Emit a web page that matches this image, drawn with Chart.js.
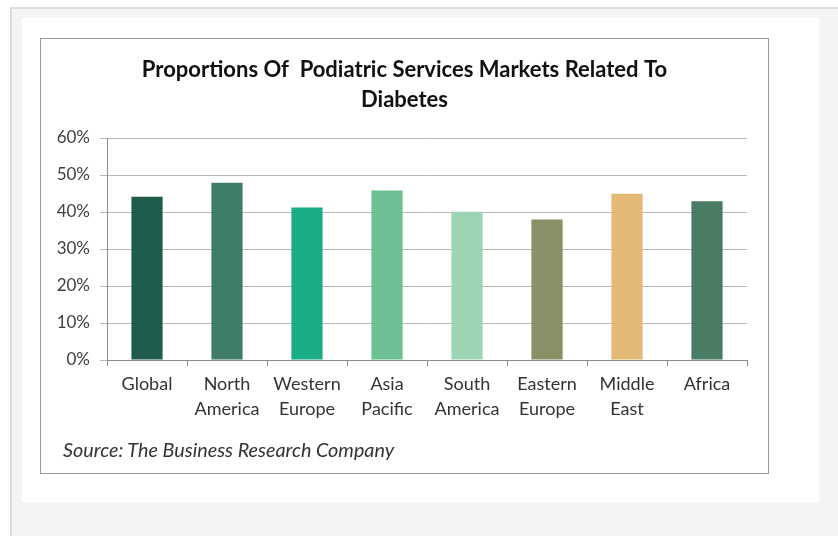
<!DOCTYPE html>
<html lang="en">
<head>
    <meta charset="UTF-8">
    <title>Proportions Of Podiatric Services Markets Related To Diabetes</title>
    <script src="https://cdn.jsdelivr.net/npm/chart.js"></script>
    <style>
        body { margin: 0; background: #fff; font-family: Lato, sans-serif; }
        .outer { position: absolute; left: 10px; top: 7px; width: 840px; height: 540px;
                 background: #f4f4f4; border-left: 2px solid #dcdcdc; border-top: 2px solid #dcdcdc; }
        .panel { position: absolute; left: 22px; top: 18px; width: 797px; height: 484px; background: #fff; }
        .box { position: absolute; left: 40px; top: 38px; width: 729px; height: 436px;
               box-sizing: border-box; border: 1px solid #9a9a9a; background: #fff; }
        .box canvas { display: block; }
        .source { position: absolute; left: 63px; top: 437px; font-style: italic; font-size: 19.8px; color: #333; }
    </style>
</head>
<body>
<div class="outer"></div>
<div class="panel"></div>
<div class="box"><canvas id="chart" width="727" height="434"></canvas></div>
<div class="source">Source: The Business Research Company</div>

<script>
const regions = [
    ["Global"], ["North", "America"], ["Western", "Europe"], ["Asia", "Pacific"],
    ["South", "America"], ["Eastern", "Europe"], ["Middle", "East"], ["Africa"]
];
const shares = [44.1, 47.9, 41.2, 45.8, 40.1, 38.0, 44.9, 42.9];
const barColors = ['#1f5c4b', '#3f7d67', '#1bae86', '#6cc192', '#9dd5b4', '#8a8f66', '#e3b977', '#4a7b63'];
const yTicks = [0, 10, 20, 30, 40, 50, 60];

const ctx = document.getElementById('chart').getContext('2d');
new Chart(ctx, {
    type: 'bar',
    data: {
        labels: regions,
        datasets: [{
            data: shares,
            backgroundColor: barColors,
            barPercentage: 0.39,
            categoryPercentage: 1
        }]
    },
    options: {
        responsive: false,
        animation: false,
        plugins: {
            legend: { display: false },
            tooltip: { enabled: false },
            title: {
                display: true,
                text: ['Proportions Of  Podiatric Services Markets Related To', 'Diabetes'],
                color: '#111',
                font: { family: 'Lato', size: 22, weight: 'bold', lineHeight: 30 / 22 },
                padding: { top: 16, bottom: 23 }
            }
        },
        scales: {
            x: {
                grid: { display: true, drawOnChartArea: false, drawTicks: true, tickLength: 6, color: '#8c8c8c', offset: true },
                border: { display: true, color: '#8c8c8c' },
                ticks: { color: '#333', font: { family: 'Lato', size: 18, lineHeight: 1.39 }, padding: 6, maxRotation: 0, autoSkip: false },
                afterFit: s => { s.height = 113; }
            },
            y: {
                min: yTicks[0],
                max: yTicks[yTicks.length - 1],
                afterBuildTicks: s => { s.ticks = yTicks.map(v => ({ value: v })); },
                grid: { color: '#b8b8b8', tickLength: 7 },
                border: { display: true, color: '#8c8c8c' },
                ticks: { color: '#404040', font: { family: 'Lato', size: 17 }, padding: 10, callback: v => v + '%' },
                afterFit: s => { s.width = 66; }
            },
            // empty right margin so the title stays centred on the whole box
            spacer: {
                type: 'linear',
                position: 'right',
                grid: { display: false },
                border: { display: false },
                ticks: { display: false },
                afterFit: s => { s.width = 21; }
            }
        }
    }
});
</script>
</body>
</html>
